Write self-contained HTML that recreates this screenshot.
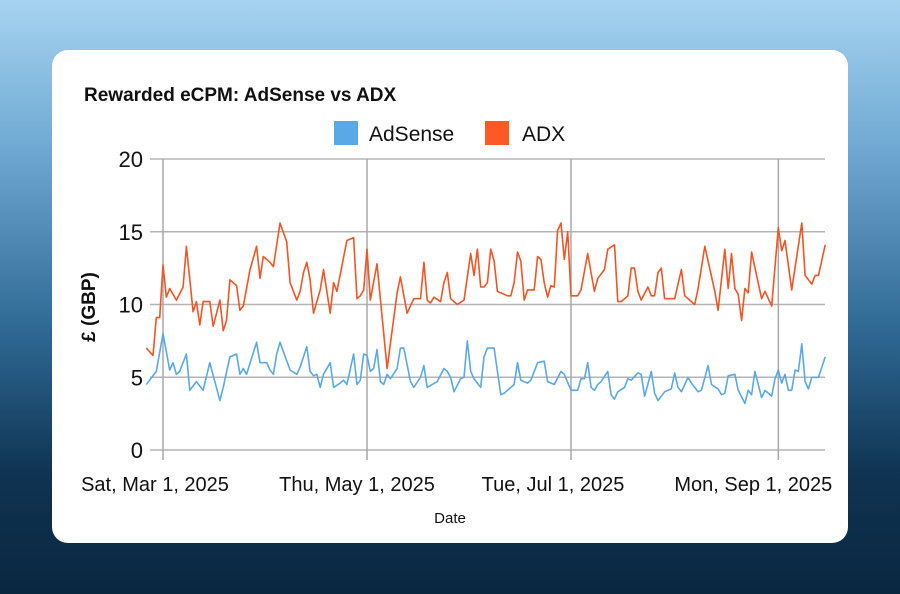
<!DOCTYPE html>
<html><head><meta charset="utf-8"><style>
html,body{margin:0;padding:0;width:900px;height:594px;overflow:hidden}
body{background:linear-gradient(180deg,#a6d3f0 0%,#6fa9d3 25%,#2f6a95 55%,#0f3352 80%,#0a2740 100%);font-family:"Liberation Sans",sans-serif;position:relative}
#card{position:absolute;left:52px;top:50px;width:796px;height:493px;background:#fff;border-radius:16px}
svg{position:absolute;left:0;top:0}
</style></head><body>
<div id="card"></div>
<svg id="chart" width="900" height="594"></svg>
<script>
const yTicks=[0,5,10,15,20];
const xTickLabels=["Sat, Mar 1, 2025","Thu, May 1, 2025","Tue, Jul 1, 2025","Mon, Sep 1, 2025"];
const xTickDays=[5,66,127,189];
const adxDays=[0,2,3,4,5,6,7,9,11,12,14,15,16,17,19,20,22,23,24,25,27,28,29,31,33,34,35,37,38,40,42,43,45,46,47,48,49,50,52,53,55,56,57,60,62,63,64,65,66,67,69,72,75,76,78,80,82,83,84,85,86,88,89,90,91,93,95,97,98,99,100,101,102,103,104,105,108,109,110,111,112,113,114,116,117,118,119,120,121,122,123,124,125,126,127,129,130,132,134,135,137,138,140,141,142,144,145,146,147,148,150,151,152,153,154,155,158,160,161,163,164,165,167,170,171,173,174,175,176,177,178,179,180,181,184,185,187,189,190,191,193,196,197,199,200,201,203];
const adxVals=[7.0,6.5,9.1,9.1,12.7,10.5,11.1,10.3,11.2,14.0,9.5,10.2,8.6,10.2,10.2,8.5,10.3,8.2,8.9,11.7,11.3,9.6,9.9,12.4,14.0,11.8,13.3,12.9,12.6,15.6,14.3,11.5,10.3,10.9,12.2,12.9,11.7,9.4,11,12.4,9.4,11.5,10.9,14.4,14.6,10.4,10.6,11,13.8,10.3,12.8,5.6,10.8,11.9,9.4,10.4,10.4,12.9,10.3,10.1,10.5,10.2,11.5,12.2,10.4,10,10.3,13.5,12,13.8,11.2,11.2,11.5,13.8,13,10.9,10.6,10.6,11.5,13.6,13,10.3,11,11,13.3,13.1,11.5,10.5,11.3,11.2,15.1,15.6,13.1,15,10.6,10.6,11,13.5,10.9,11.8,12.4,13.8,14.1,10.2,10.2,10.6,12.5,12.5,10.9,10.3,11.2,10.6,10.6,12.2,12.5,10.4,10.4,12.4,10.6,10.2,10,11.1,14,10.9,9.6,13.8,11.1,13.5,11.1,10.7,8.9,11.1,10.8,13.6,10.4,10.9,9.9,15.3,13.7,14.4,11,15.6,12,11.4,12,12,14.1];
const adsDays=[0,3,5,7,8,9,10,12,13,15,17,19,22,23,25,27,28,29,30,33,34,36,37,38,39,40,43,45,46,48,49,50,51,52,53,55,56,58,59,60,62,63,64,65,66,67,68,69,70,71,72,73,75,76,77,79,80,82,83,84,87,89,90,91,92,94,95,96,97,98,100,101,102,104,106,107,110,111,112,114,115,117,119,120,122,124,125,127,129,130,131,132,133,134,135,136,138,139,140,141,143,144,145,147,148,149,151,152,153,155,157,158,159,160,162,163,165,166,168,169,171,172,173,174,176,177,179,180,181,182,184,185,187,188,189,190,191,192,193,194,195,196,197,198,199,201,203];
const adsVals=[4.5,5.4,8,5.5,6,5.2,5.4,6.6,4.1,4.7,4.1,6,3.4,4.3,6.4,6.6,5.2,5.6,5.2,7.4,6,6,5.5,5.2,6.6,7.4,5.5,5.2,5.7,7.1,5.4,5.1,5.2,4.3,5.2,6,4.3,4.6,4.8,4.5,6.6,4.5,4.8,6.6,6.5,5.4,5.6,6.9,4.7,4.5,5.2,4.9,5.6,7,7,4.7,4.3,5,5.8,4.3,4.7,5.6,5.4,5,4,4.9,5,7.5,5.4,4.9,4.3,6.4,7,7,3.8,3.9,4.5,6,4.8,4.6,4.8,6,6.1,4.7,4.5,5.4,5.2,4.1,4.1,4.9,4.9,6,4.3,4.1,4.5,4.7,5.4,3.8,3.5,4,4.3,4.9,4.8,5.3,5.2,3.7,5.4,3.9,3.4,4,4.2,5.3,4.3,4,5,4.6,4,4.1,5.8,4.5,4.2,3.8,3.9,5.1,5.2,4.1,3.2,4.1,3.8,5.4,3.6,4.1,3.7,4.9,5.5,4.6,5.2,4.1,4.1,5.5,5.4,7.3,4.7,4.2,5,5,6.4];

const NS="http://www.w3.org/2000/svg";
const svg=document.getElementById('chart');
const X0=147,X1=825,Y0=450,Y1=159;
const labelShift=[-8,-10,-18,-25];
function xs(d){return 163+(d-5)*(204/61);}
function ys(v){return Y0-(v/20)*(Y0-Y1);}
function mk(tag,attrs,parent){const e=document.createElementNS(NS,tag);for(const k in attrs)e.setAttribute(k,attrs[k]);(parent||svg).appendChild(e);return e;}

const title=mk('text',{x:84,y:101,'font-size':19,'font-weight':'bold',fill:'#111'});
title.textContent='Rewarded eCPM: AdSense vs ADX';



const l1=mk('rect',{x:334,y:121,width:24,height:24,fill:'#5aa9e6'});


const lt1=mk('text',{x:369,y:141,'font-size':21,fill:'#111'});lt1.textContent='AdSense';


const l2=mk('rect',{x:485,y:121,width:24,height:24,fill:'#ff5a26'});


const lt2=mk('text',{x:522,y:141,'font-size':21,fill:'#111'});lt2.textContent='ADX';



yTicks.forEach(t=>{
  const g=mk('line',{x1:150,x2:X1,y1:ys(t),y2:ys(t),stroke:'#b5b5b5','stroke-width':1.5});
  
  
  const lb=mk('text',{x:143,y:ys(t)+8,'text-anchor':'end','font-size':22,fill:'#111'});
  lb.textContent=t;
  
  
});
xTickDays.forEach((d,i)=>{
  const g=mk('line',{x1:xs(d),x2:xs(d),y1:Y1,y2:460,stroke:'#a8a8a8','stroke-width':1.5});
  
  
  const lb=mk('text',{x:xs(d)+labelShift[i],y:491,'text-anchor':'middle','font-size':20,fill:'#111'});
  lb.textContent=xTickLabels[i];
  
  
});
const xt=mk('text',{x:450,y:523,'text-anchor':'middle','font-size':15,fill:'#111'});xt.textContent='Date';


const yt=mk('text',{x:0,y:0,'text-anchor':'middle','font-size':19,'font-weight':'bold',fill:'#111',transform:'translate(95,307) rotate(-90)'});yt.textContent='£ (GBP)';



function line(days,vals,color,name){
  const p=days.map((d,i)=>(i?'L':'M')+xs(d).toFixed(1)+','+ys(vals[i]).toFixed(1)).join(' ');
  const e=mk('path',{d:p,fill:'none',stroke:color,'stroke-width':1.6,'stroke-linejoin':'round'});
  
  
}
line(adxDays,adxVals,'#f05526','adx-line');
line(adsDays,adsVals,'#5aa9e6','adsense-line');
</script>
</body></html>
